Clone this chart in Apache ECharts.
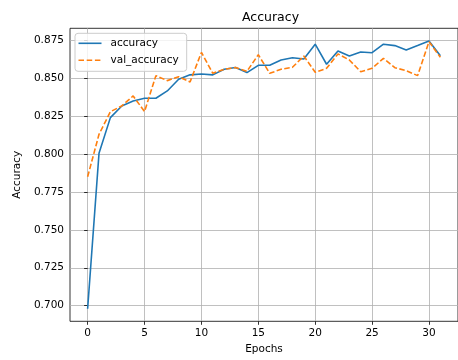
<!DOCTYPE html>
<html>
<head>
<meta charset="utf-8">
<script src="https://cdn.jsdelivr.net/npm/echarts@6/dist/echarts.min.js"></script>
<style>
html,body{margin:0;padding:0;background:#fff;}
#c{width:458px;height:360px;}
</style>
</head>
<body>
<div id="c"></div>
<script>
const epochs = Array.from({length: 32}, (_, i) => i);
const accuracy = [0.698, 0.8005, 0.824, 0.8317, 0.835, 0.8368, 0.8368, 0.8416, 0.8493, 0.8522, 0.8528, 0.8522, 0.8559, 0.8570, 0.8537, 0.8585, 0.8585, 0.8620, 0.8635, 0.8627, 0.8724, 0.8592, 0.8680, 0.8646, 0.8673, 0.8668, 0.8724, 0.8715, 0.8686, 0.8715, 0.8745, 0.8648];
const valAccuracy = [0.785, 0.813, 0.8279, 0.8317, 0.8383, 0.8280, 0.8517, 0.8484, 0.8510, 0.8475, 0.8670, 0.8532, 0.8559, 0.8570, 0.8545, 0.8655, 0.8532, 0.8559, 0.8572, 0.8646, 0.8539, 0.8565, 0.8660, 0.8620, 0.8543, 0.8565, 0.8631, 0.8569, 0.8550, 0.8517, 0.8741, 0.8638];
const xTicks = [0, 5, 10, 15, 20, 25, 30];
const yTicks = [0.700, 0.725, 0.750, 0.775, 0.800, 0.825, 0.850, 0.875];

const FONT = 'DejaVu Sans';
const SOLID_ICON = 'path://M0,0h23v1.6h-23z';
const DASH_ICON = 'path://M0,0h5.5v1.6h-5.5zM8.2,0h5.5v1.6h-5.5zM16.4,0h5.5v1.6h-5.5zM23,0v1.6z';
const chart = echarts.init(document.getElementById('c'), null, {renderer: 'canvas'});
chart.setOption({
  animation: false,
  backgroundColor: '#fff',
  textStyle: {fontFamily: FONT},
  title: {
    text: 'Accuracy', left: 265.5, top: 6, textAlign: 'center',
    textStyle: {fontFamily: FONT, fontSize: 12.5, fontWeight: 'normal', color: '#000'}
  },
  legend: {
    orient: 'vertical', left: 75, top: 33.3,
    padding: [4.5, 8, 5.5, 3.5],
    itemWidth: 23, itemHeight: 1.6, itemGap: 6,
    borderColor: '#cccccc', borderWidth: 1, borderRadius: 3,
    backgroundColor: 'rgba(255,255,255,0.8)',
    textStyle: {fontFamily: FONT, fontSize: 10.5, color: '#000', padding: [0, 0, 0, 4]},
    data: [
      {name: 'accuracy', icon: SOLID_ICON, itemStyle: {color: '#1f77b4'}},
      {name: 'val_accuracy', icon: DASH_ICON, itemStyle: {color: '#ff7f0e'}}
    ]
  },
  grid: {left: 70, top: 28.3, bottom: 38.7, right: -6, show: true, borderColor: '#000', borderWidth: 0.8, containLabel: false},
  xAxis: {
    type: 'value', min: -1.55, max: 32.55,
    name: 'Epochs', nameLocation: 'middle', nameGap: 22,
    nameTextStyle: {fontFamily: FONT, fontSize: 10.5, color: '#000'},
    axisLine: {show: false},
    axisTick: {show: true, length: 3.5, inside: false, lineStyle: {color: '#000', width: 0.8}, customValues: xTicks},
    axisLabel: {customValues: xTicks, fontFamily: FONT, fontSize: 10.5, color: '#000', margin: 6, formatter: v => String(v)},
    splitLine: {show: true, lineStyle: {color: '#b0b0b0', width: 0.8}}
  },
  yAxis: {
    type: 'value', min: 0.6897, max: 0.8829,
    name: 'Accuracy', nameLocation: 'middle', nameGap: 42.5,
    nameTextStyle: {fontFamily: FONT, fontSize: 10.5, color: '#000'},
    axisLine: {show: false},
    axisTick: {show: true, length: 3.5, inside: false, lineStyle: {color: '#000', width: 0.8}, customValues: yTicks},
    axisLabel: {customValues: yTicks, fontFamily: FONT, fontSize: 10.5, color: '#000', margin: 6, formatter: v => v.toFixed(3)},
    splitLine: {show: true, lineStyle: {color: '#b0b0b0', width: 0.8}}
  },
  series: [
    {
      name: 'accuracy', type: 'line', symbol: 'none',
      data: epochs.map((e, i) => [e, accuracy[i]]),
      lineStyle: {color: '#1f77b4', width: 1.6},
      itemStyle: {color: '#1f77b4'}
    },
    {
      name: 'val_accuracy', type: 'line', symbol: 'none',
      data: epochs.map((e, i) => [e, valAccuracy[i]]),
      lineStyle: {color: '#ff7f0e', width: 1.6, type: [5.5, 2.4]},
      itemStyle: {color: '#ff7f0e'}
    }
  ]
});
</script>
</body>
</html>
